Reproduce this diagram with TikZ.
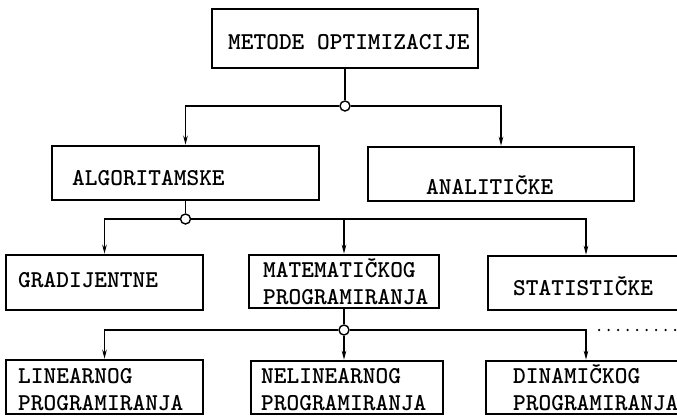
\documentclass[tikz,border=0pt]{standalone}
\usepackage{fontspec}
\usetikzlibrary{arrows.meta,positioning,calc}
\tikzset{
  box/.style={draw,line width=2.5pt,inner sep=0pt},
  lbl/.style={anchor=base west,inner sep=0pt,align=left,
    font=\ttfamily\bfseries\fontsize{24.2}{26.5}\selectfont},
  knot/.style={draw,circle,line width=1.4pt,fill=white,minimum size=10pt,inner sep=0pt},
  link/.style={line width=1.6pt},
  arr/.style={link,-{Stealth[length=9pt,width=4.5pt]}},
}
\begin{document}
\begin{tikzpicture}[x=1pt,y=-1pt]
  \useasboundingbox (0,0) rectangle (677,417);
  \clip (0,0) rectangle (677,417);
  \node[box,minimum width=266pt,minimum height=59pt] (metode) at (345,38.5) {};
  \node[box,minimum width=267pt,minimum height=54pt] (algo) at (185.5,173) {};
  \node[box,minimum width=266pt,minimum height=54pt] (anal) at (501,174) {};
  \node[box,minimum width=197pt,minimum height=55pt] (grad) at (104.5,282.5) {};
  \node[box,minimum width=190pt,minimum height=53pt] (mat) at (344,281.5) {};
  \node[box,minimum width=196pt,minimum height=54pt] (stat) at (586,283) {};
  \node[box,minimum width=197pt,minimum height=54pt] (lin) at (104.5,387) {};
  \node[box,minimum width=192pt,minimum height=53pt] (nel) at (347,387.5) {};
  \node[box,minimum width=200pt,minimum height=53pt] (dyn) at (586,387.5) {};

  \node[lbl] (tmetode) at (228,50) {METODE OPTIMIZACIJE};
  \node[lbl] (talgo) at (72,185) {ALGORITAMSKE};
  \node[lbl] (tanal) at (426,194) {ANALITIČKE};
  \node[lbl] (tgrad) at (18,287) {GRADIJENTNE};
  \node[lbl] (tmat) at (263,304) {MATEMATIČKOG\\PROGRAMIRANJA};
  \node[lbl] (tstat) at (513,295) {STATISTIČKE};
  \node[lbl] (tlin) at (18,410) {LINEARNOG\\PROGRAMIRANJA};
  \node[lbl] (tnel) at (261,410) {NELINEARNOG\\PROGRAMIRANJA};
  \node[lbl] (tdyn) at (513,410) {DINAMIČKOG\\PROGRAMIRANJA};

  \node[knot] (k1) at (345,106) {};
  \node[knot] (k2) at (185.5,219) {};
  \node[knot] (k3) at (344,330) {};
  \coordinate (far) at (677,330);

  \draw[link] (metode) -- (k1);
  \draw[arr] (k1) -| (algo);
  \draw[arr] (k1) -| (anal);
  \draw[link] (algo) -- (k2);
  \draw[arr] (k2) -| (grad);
  \draw[arr] (k2) -| (mat);
  \draw[arr] (k2) -| (stat);
  \draw[link] (mat) -- (k3);
  \draw[arr] (k3) -| (lin);
  \draw[arr] (k3) -- (k3 |- nel.north);
  \draw[arr] (k3) -| (dyn);
  \draw[line width=2.5pt,line cap=round,dash pattern=on 0pt off 9.5pt] ($(dyn |- k3)+(13,0)$) -- (far);
\end{tikzpicture}
\end{document}
